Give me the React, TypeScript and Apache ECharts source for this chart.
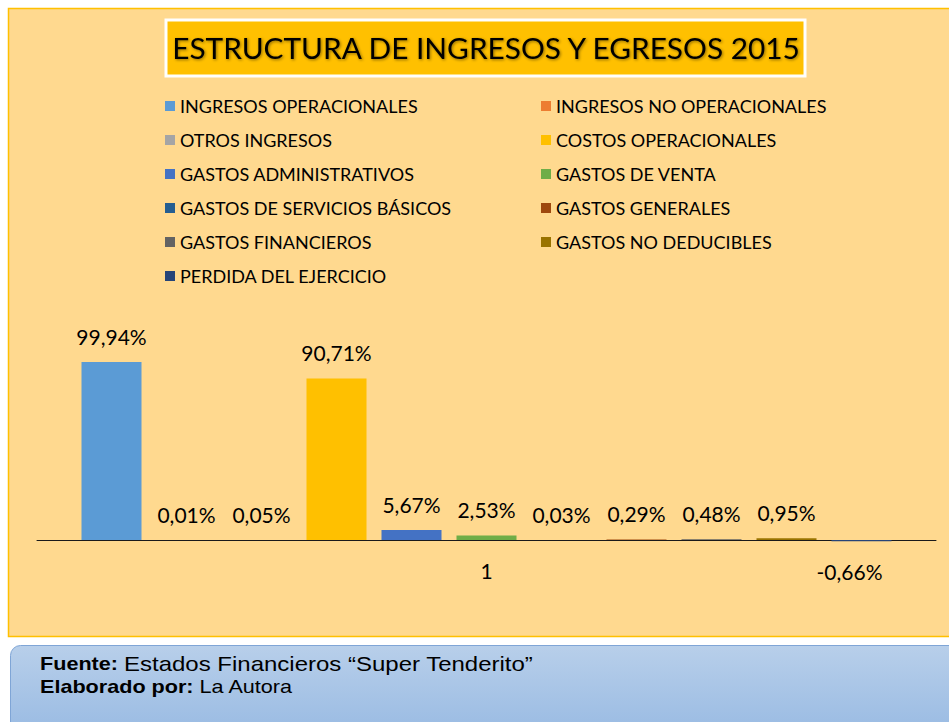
import React, { useEffect, useRef } from "react";
import * as echarts from "echarts";

const categories = ["1"];
const seriesNames = [
  "INGRESOS OPERACIONALES",
  "INGRESOS NO OPERACIONALES",
  "OTROS INGRESOS",
  "COSTOS OPERACIONALES",
  "GASTOS ADMINISTRATIVOS",
  "GASTOS DE VENTA",
  "GASTOS DE SERVICIOS BÁSICOS",
  "GASTOS GENERALES",
  "GASTOS FINANCIEROS",
  "GASTOS NO DEDUCIBLES",
  "PERDIDA DEL EJERCICIO",
];
const seriesValues = [99.94, 0.01, 0.05, 90.71, 5.67, 2.53, 0.03, 0.29, 0.48, 0.95, -0.66];
const seriesColors = [
  "#5B9BD5", "#ED7D31", "#A5A5A5", "#FFC000", "#4472C4", "#70AD47",
  "#255E91", "#9E480E", "#636363", "#997300", "#264478",
];

const FONT = "Lato, sans-serif";
const ARIAL = "'Liberation Sans', Arial, sans-serif";

export default function App() {
  const ref = useRef<HTMLDivElement>(null);
  useEffect(() => {
    document.body.style.margin = "0";
    const chart = echarts.init(ref.current!, null, { renderer: "svg" });
    const fmt = (v: number) => v.toFixed(2).replace(".", ",") + "%";
    chart.setOption({
      animation: false,
      backgroundColor: "#ffffff",
      graphic: [
        {
          type: "rect", z: -10, silent: true,
          shape: { x: 8.5, y: 8.5, width: 950, height: 628 },
          style: { fill: "#FFD98F", stroke: "#FFC000", lineWidth: 1.5 },
        },
        {
          type: "rect", z: -9, silent: true,
          shape: { x: 166, y: 20, width: 639, height: 56 },
          style: { fill: "#FFC000", stroke: "#ffffff", lineWidth: 3 },
        },
        {
          type: "text", z: 5, silent: true,
          x: 486, y: 48, scaleX: 1.065,
          style: {
            x: 0, y: 0, text: "ESTRUCTURA DE INGRESOS Y EGRESOS 2015",
            align: "center", verticalAlign: "middle",
            font: "28px " + FONT, fill: "#000000",
            textShadowColor: "rgba(0,0,0,0.45)", textShadowBlur: 3,
            textShadowOffsetX: 1, textShadowOffsetY: 1,
          },
        },
        {
          type: "rect", z: -9, silent: true,
          shape: { x: 10.5, y: 645.5, width: 960, height: 100, r: 10 },
          style: {
            fill: new echarts.graphic.LinearGradient(0, 0, 0, 1, [
              { offset: 0, color: "#B8CFEA" },
              { offset: 1, color: "#95B8E2" },
            ]),
            stroke: "#7FA5D6", lineWidth: 1,
          },
        },
        {
          type: "text", silent: true,
          x: 40, y: 664, scaleX: 1.2,
          style: {
            x: 0, y: 0,
            text: "{b|Fuente:} {r|Estados Financieros “Super Tenderito”}",
            verticalAlign: "middle",
            font: "18px " + ARIAL,
            fill: "#000",
            rich: {
              b: { fontWeight: "bold", fontSize: 18, fontFamily: ARIAL },
              r: { fontSize: 20, fontFamily: ARIAL },
            },
          },
        },
        {
          type: "text", silent: true,
          x: 40, y: 687, scaleX: 1.2,
          style: {
            x: 0, y: 0,
            text: "{b|Elaborado por:} {r|La Autora}",
            verticalAlign: "middle",
            font: "18px " + ARIAL,
            fill: "#000",
            rich: {
              b: { fontWeight: "bold", fontSize: 18, fontFamily: ARIAL },
              r: { fontSize: 18, fontFamily: ARIAL },
            },
          },
        },
      ],
      legend: {
        left: 160, top: 91, width: 780,
        itemWidth: 10, itemHeight: 10, itemGap: 14,
        icon: "rect",
        data: seriesNames,
        textStyle: { fontSize: 18, fontFamily: FONT, color: "#000", width: 347, lineHeight: 20 },
      },
      grid: { left: 37, right: 13, top: 361.9, bottom: 722 - 557.8 },
      xAxis: {
        type: "category", data: categories,
        axisLine: { onZero: true, lineStyle: { color: "#1a1a1a", width: 1 } },
        axisTick: { show: false },
        axisLabel: { margin: 2, fontSize: 21, fontFamily: FONT, color: "#000" },
      },
      yAxis: {
        type: "value", min: -10, max: 100, show: false,
        splitLine: { show: false },
      },
      series: seriesNames.map((name, i) => ({
        name, type: "bar",
        data: [seriesValues[i]],
        barWidth: 60, barGap: "25%",
        itemStyle: { color: seriesColors[i] },
        label: {
          show: true,
          position: seriesValues[i] < 0 ? "bottom" : "top",
          distance: seriesValues[i] < 0 ? 20 : 15,
          offset: seriesValues[i] < 0 ? [-12, 0] : [0, 0],
          fontSize: 21, fontFamily: FONT, color: "#000",
          formatter: () => fmt(seriesValues[i]),
        },
      })),
    });
    return () => chart.dispose();
  }, []);
  return <div ref={ref} style={{ width: 949, height: 722 }} />;
}
